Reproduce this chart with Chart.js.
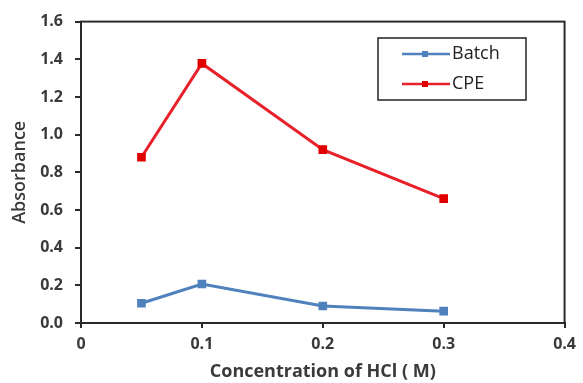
<!DOCTYPE html>
<html>
<head>
	<meta charset="utf-8">
	<script src="https://cdn.jsdelivr.net/npm/chart.js@4.4.0/dist/chart.umd.min.js"></script>
	<style>
		html, body { margin: 0; padding: 0; background: #fff; }
		#wrap { position: relative; width: 583px; height: 383px; }
	</style>
</head>
<body>
<div id="wrap"><canvas id="myChart"></canvas></div>
<script>
	// data
	const hclConc = [0.05, 0.1, 0.2, 0.3];
	const batch = [0.105, 0.207, 0.09, 0.063];
	const cpe = [0.88, 1.378, 0.92, 0.66];
	const xTickLabels = ["0", "0.1", "0.2", "0.3", "0.4"];
	const yTickLabels = ["0.0", "0.2", "0.4", "0.6", "0.8", "1.0", "1.2", "1.4", "1.6"];

	const axisColor = "#2a2a2a";
	const textColor = "#3a3a3a";
	const fam = "'Open Sans', sans-serif";

	// frame around plot + boxed legend
	const framePlugin = {
		id: "frame",
		afterDraw(chart) {
			const c = chart.ctx, a = chart.chartArea;
			c.save();
			c.strokeStyle = axisColor;
			c.lineWidth = 2;
			c.strokeRect(a.left, a.top, a.right - a.left, a.bottom - a.top);

			// legend
			c.lineWidth = 1.5;
			c.strokeStyle = "#222";
			c.strokeRect(378, 38, 148, 62);
			chart.data.datasets.forEach((ds, i) => {
				const y = 54 + i * 30;
				c.strokeStyle = ds.borderColor;
				c.lineWidth = 2.5;
				c.beginPath();
				c.moveTo(402, y);
				c.lineTo(450, y);
				c.stroke();
				c.fillStyle = ds.pointBackgroundColor;
				c.fillRect(422, y - 3, 6, 6);
				c.fillStyle = "#222";
				c.font = "18px " + fam;
				c.textBaseline = "middle";
				c.fillText(ds.label, 452, y);
			});
			c.restore();
		}
	};

	const ctx = document.getElementById("myChart").getContext("2d");
	const myChart = new Chart(ctx, {
		type: "line",
		data: {
			datasets: [
				{
					label: "Batch",
					data: hclConc.map((x, i) => ({x: x, y: batch[i]})),
					borderColor: "#4f81bd",
					backgroundColor: "#4f81bd",
					pointBackgroundColor: "#4f81bd",
					pointBorderColor: "#4f81bd",
					borderWidth: 3,
					pointStyle: "rect",
					pointRadius: 4,
					tension: 0
				},
				{
					label: "CPE",
					data: hclConc.map((x, i) => ({x: x, y: cpe[i]})),
					borderColor: "#e8202a",
					backgroundColor: "#e00000",
					pointBackgroundColor: "#e00000",
					pointBorderColor: "#e00000",
					borderWidth: 3,
					pointStyle: "rect",
					pointRadius: 4,
					tension: 0
				}
			]
		},
		options: {
			responsive: true,
			maintainAspectRatio: false,
			animation: false,
			layout: { padding: { left: 9, top: 20, right: 15, bottom: 0 } },
			plugins: {
				legend: { display: false },
				tooltip: { enabled: false }
			},
			scales: {
				x: {
					type: "linear",
					min: 0, max: 0.4,
					afterBuildTicks(s) { s.ticks = xTickLabels.map((t, i) => ({value: i * 0.1})); },
					afterFit(s) { s.height = 60; },
					border: { color: axisColor, width: 2 },
					grid: { drawOnChartArea: false, tickLength: 5, color: axisColor, lineWidth: 2 },
					ticks: {
						padding: 7,
						color: textColor,
						font: { family: fam, size: 16, weight: "bold" },
						callback: (v, i) => xTickLabels[i]
					},
					title: {
						display: true,
						text: "Concentration of HCl ( M)",
						color: textColor,
						padding: { top: 0, bottom: 0 },
						font: { family: fam, size: 18, weight: "bold" }
					}
				},
				y: {
					min: 0, max: 1.6,
					afterBuildTicks(s) { s.ticks = yTickLabels.map((t, i) => ({value: i * 0.2})); },
					afterFit(s) { s.width = 72; },
					border: { color: axisColor, width: 2 },
					grid: { drawOnChartArea: false, tickLength: 6, color: axisColor, lineWidth: 2 },
					ticks: {
						padding: 12,
						color: textColor,
						font: { family: fam, size: 16, weight: "bold" },
						callback: (v, i) => yTickLabels[i]
					},
					title: {
						display: true,
						text: "Absorbance",
						color: textColor,
						padding: { top: 0, bottom: 0 },
						font: { family: fam, size: 18, weight: "600" }
					}
				}
			}
		},
		plugins: [framePlugin]
	});
</script>
</body>
</html>
